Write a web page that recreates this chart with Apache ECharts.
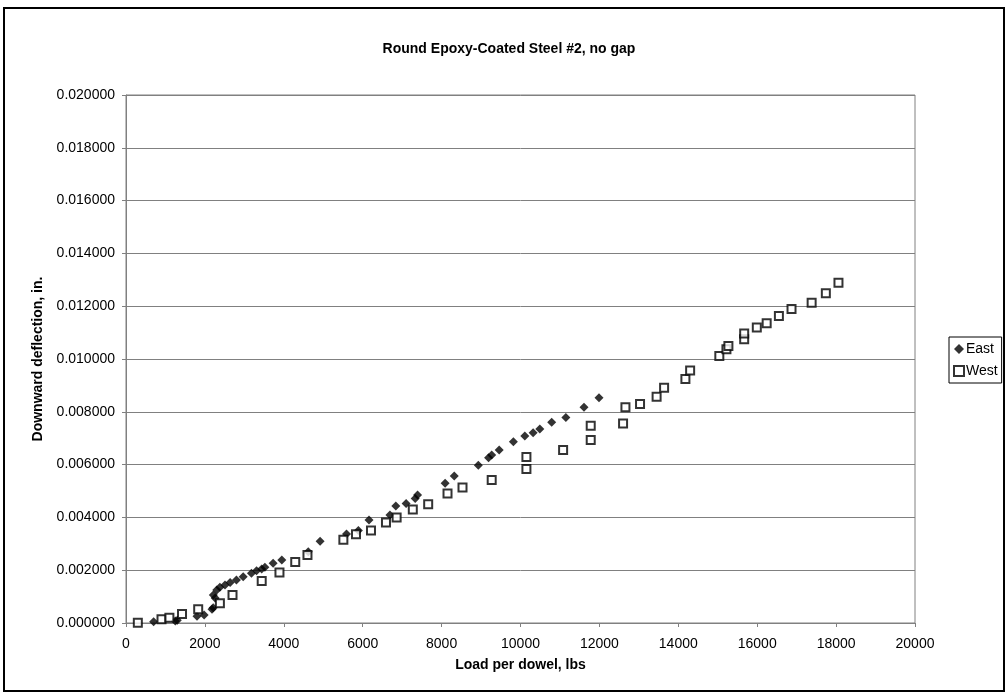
<!DOCTYPE html>
<html><head><meta charset="utf-8">
<script src="https://cdn.jsdelivr.net/npm/echarts@6/dist/echarts.min.js"></script>
<style>html,body{margin:0;padding:0;background:#fff}#c{width:1008px;height:696px}</style>
</head><body><div id="c"></div>
<script>
const titleText = "Round Epoxy-Coated Steel #2, no gap";
const xName = "Load per dowel, lbs";
const yName = "Downward deflection, in.";
const eastLoad = [700,1250,1300,1800,1980,2180,2210,2214,2260,2300,2380,2510,2640,2800,2970,3180,3310,3440,3520,3730,3950,4620,4920,5590,5890,6160,6690,6840,7100,7330,7390,8090,8320,8930,9190,9270,9460,9820,10110,10320,10490,10790,11150,11610,11990];
const eastDefl = [0.00005,0.00008,0.00010,0.00026,0.00030,0.00052,0.00058,0.00106,0.00095,0.00125,0.00135,0.00144,0.00153,0.00163,0.00175,0.00188,0.00198,0.00205,0.00211,0.00226,0.00239,0.00270,0.00310,0.00337,0.00350,0.00390,0.00409,0.00443,0.00453,0.00472,0.00485,0.00529,0.00557,0.00598,0.00626,0.00636,0.00655,0.00687,0.00708,0.00721,0.00735,0.00760,0.00778,0.00817,0.00853];
const westLoad = [300,900,1100,1420,1830,2380,2700,3440,3890,4290,4600,5510,5830,6210,6590,6860,7270,7660,8150,8530,9270,10150,10150,11080,11780,11780,12600,12660,13030,13450,13640,14180,14300,15040,15220,15270,15670,15670,15990,16240,16550,16870,17380,17740,18060];
const westDefl = [0.00001,0.00014,0.00020,0.00034,0.00052,0.00075,0.00106,0.00159,0.00191,0.00231,0.00258,0.00315,0.00336,0.00350,0.00381,0.00400,0.00430,0.00450,0.00491,0.00513,0.00542,0.00583,0.00629,0.00655,0.00693,0.00747,0.00756,0.00817,0.00830,0.00857,0.00891,0.00924,0.00956,0.01011,0.01037,0.01049,0.01075,0.01097,0.01119,0.01135,0.01163,0.01189,0.01213,0.01249,0.01289];

const zip = (a,b) => a.map((v,i) => [v,b[i]]);
const font = 'Liberation Sans, Arial, sans-serif';
const chart = echarts.init(document.getElementById('c'), null, {renderer:'canvas'});
chart.setOption({
  animation:false,
  backgroundColor:'#fff',
  title:{text:titleText,left:504,top:37,textAlign:'center',
    textStyle:{fontFamily:font,fontSize:14,fontWeight:'bold',color:'#000'}},
  grid:{left:126,right:93,top:95,bottom:73,show:true,borderColor:'#808080',borderWidth:1},
  legend:{orient:'vertical',left:949,top:337,itemWidth:10,itemHeight:10,itemGap:8,
    padding:[5,4,5,4],borderColor:'#000',borderWidth:1,
    textStyle:{fontFamily:font,fontSize:14,color:'#000',padding:[0,0,0,-3]},
    data:[{name:'East',icon:'diamond'},{name:'West',icon:'rect'}]},
  xAxis:{type:'value',min:0,max:20000,interval:2000,
    name:xName,nameLocation:'middle',nameGap:35,
    nameTextStyle:{fontFamily:font,fontSize:14,fontWeight:'bold',color:'#000'},
    axisLine:{lineStyle:{color:'#808080'}},
    axisTick:{show:true,length:4,lineStyle:{color:'#808080'}},
    axisLabel:{fontFamily:font,fontSize:14,color:'#000',margin:14,formatter:v=>String(v)},
    splitLine:{show:false}},
  yAxis:{type:'value',min:0,max:0.02,interval:0.002,
    name:yName,nameLocation:'middle',nameGap:81,
    nameTextStyle:{fontFamily:font,fontSize:14,fontWeight:'bold',color:'#000'},
    axisLine:{show:true,lineStyle:{color:'#808080'}},
    axisTick:{show:true,length:4,lineStyle:{color:'#808080'}},
    axisLabel:{fontFamily:font,fontSize:14,color:'#000',margin:11,formatter:v=>v.toFixed(6)},
    splitLine:{show:true,lineStyle:{color:'#808080',width:1}}},
  series:[
    {name:'East',type:'scatter',symbol:'diamond',symbolSize:9,
      itemStyle:{color:'#000'},data:zip(eastLoad,eastDefl)},
    {name:'West',type:'scatter',symbol:'rect',symbolSize:8,
      itemStyle:{color:'#fff',borderColor:'#000',borderWidth:2},data:zip(westLoad,westDefl)}
  ],
  graphic:[{type:'rect',shape:{x:4,y:8,width:1000,height:683},
    style:{fill:'none',stroke:'#000',lineWidth:2},silent:true}]
});
</script></body></html>
